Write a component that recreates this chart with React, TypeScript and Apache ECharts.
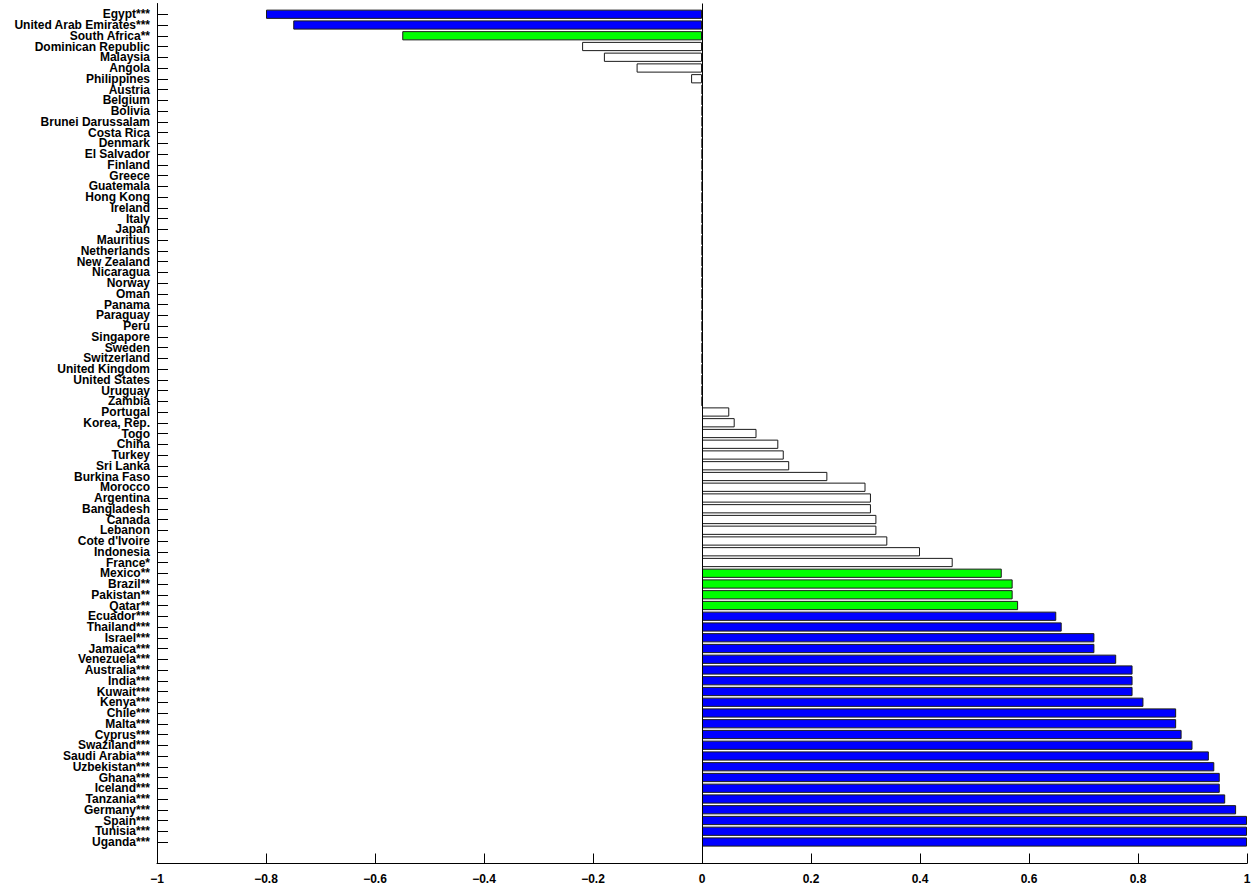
import React, { useEffect, useRef } from "react";
import * as echarts from "echarts";

const countries: string[] = [
  "Egypt***", "United Arab Emirates***", "South Africa**", "Dominican Republic", "Malaysia", "Angola", "Philippines",
  "Austria", "Belgium", "Bolivia", "Brunei Darussalam", "Costa Rica", "Denmark", "El Salvador", "Finland", "Greece",
  "Guatemala", "Hong Kong", "Ireland", "Italy", "Japan", "Mauritius", "Netherlands", "New Zealand", "Nicaragua",
  "Norway", "Oman", "Panama", "Paraguay", "Peru", "Singapore", "Sweden", "Switzerland", "United Kingdom",
  "United States", "Uruguay", "Zambia", "Portugal", "Korea, Rep.", "Togo", "China", "Turkey", "Sri Lanka",
  "Burkina Faso", "Morocco", "Argentina", "Bangladesh", "Canada", "Lebanon", "Cote d'Ivoire", "Indonesia",
  "France*", "Mexico**", "Brazil**", "Pakistan**", "Qatar**", "Ecuador***", "Thailand***", "Israel***",
  "Jamaica***", "Venezuela***", "Australia***", "India***", "Kuwait***", "Kenya***", "Chile***", "Malta***",
  "Cyprus***", "Swaziland***", "Saudi Arabia***", "Uzbekistan***", "Ghana***", "Iceland***", "Tanzania***",
  "Germany***", "Spain***", "Tunisia***", "Uganda***",
];

const values: number[] = [
  -0.8, -0.75, -0.55, -0.22, -0.18, -0.12, -0.02,
  0, 0, 0, 0, 0, 0, 0, 0, 0,
  0, 0, 0, 0, 0, 0, 0, 0, 0,
  0, 0, 0, 0, 0, 0, 0, 0, 0,
  0, 0, 0, 0.05, 0.06, 0.1, 0.14, 0.15, 0.16,
  0.23, 0.3, 0.31, 0.31, 0.32, 0.32, 0.34, 0.4,
  0.46, 0.55, 0.57, 0.57, 0.58, 0.65, 0.66, 0.72,
  0.72, 0.76, 0.79, 0.79, 0.79, 0.81, 0.87, 0.87,
  0.88, 0.9, 0.93, 0.94, 0.95, 0.95, 0.96,
  0.98, 1.0, 1.0, 1.0,
];

const xTicks: number[] = [-1, -0.8, -0.6, -0.4, -0.2, 0, 0.2, 0.4, 0.6, 0.8, 1];

const colorFor = (name: string): string => {
  if (name.endsWith("***")) return "#0000ff";
  if (name.endsWith("**")) return "#00ff00";
  return "#ffffff";
};

export default function App() {
  const ref = useRef<HTMLDivElement>(null);
  useEffect(() => {
    if (!ref.current) return;
    const chart = echarts.init(ref.current, null, { renderer: "svg" });
    // axis runs from slot 0 to slot 80; countries occupy slots 1..78
    const cats = ["", ...countries, "", ""];
    const data: any[] = ["-"];
    countries.forEach((c, i) => {
      data.push({ value: values[i], itemStyle: { color: colorFor(c) } });
    });
    data.push("-", "-");
    const fontFamily = "'Liberation Sans', Arial, Helvetica, sans-serif";
    chart.setOption({
      animation: false,
      backgroundColor: "#ffffff",
      grid: { left: 157, right: 9, top: 3.5, bottom: 22.5 },
      xAxis: {
        type: "value",
        min: xTicks[0],
        max: xTicks[xTicks.length - 1],
        interval: 0.2,
        splitLine: { show: false },
        axisLine: { show: true, onZero: false, lineStyle: { color: "#000", width: 1 } },
        axisTick: { show: true, inside: true, length: 10, lineStyle: { color: "#000", width: 1 } },
        axisLabel: {
          color: "#000",
          fontWeight: "bold",
          fontSize: 12,
          fontFamily,
          margin: 9,
          formatter: (v: number) => {
            const r = Math.round(v * 10) / 10;
            return r < 0 ? "\u2212" + String(-r) : String(r);
          },
        },
      },
      yAxis: {
        type: "category",
        inverse: true,
        data: cats,
        boundaryGap: false,
        axisLine: { show: true, onZero: false, lineStyle: { color: "#000", width: 1 } },
        axisTick: {
          show: true,
          inside: true,
          length: 11,
          interval: (_i: number, v: string) => v !== "",
          lineStyle: { color: "#000", width: 1 },
        },
        axisLabel: {
          interval: 0,
          color: "#000",
          fontWeight: "bold",
          fontSize: 12,
          fontFamily,
          margin: 7,
        },
        splitLine: { show: false },
      },
      series: [
        {
          type: "bar",
          data,
          barWidth: "86%",
          itemStyle: { borderColor: "#1a1a1a", borderWidth: 1 },
          markLine: {
            silent: true,
            symbol: "none",
            label: { show: false },
            lineStyle: { color: "#000", width: 1, type: "solid" },
            data: [{ xAxis: 0 }],
          },
        },
      ],
    });
    return () => chart.dispose();
  }, []);
  return (
    <div
      ref={ref}
      style={{ position: "absolute", left: 0, top: 0, width: 1256, height: 886 }}
    />
  );
}
